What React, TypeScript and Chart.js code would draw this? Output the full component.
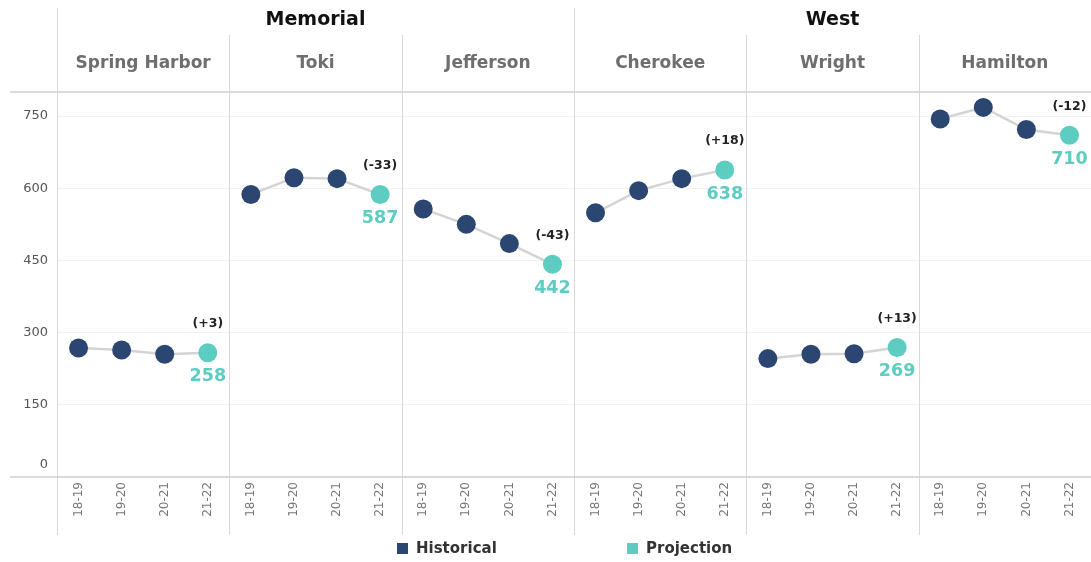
import React, { useEffect, useRef } from "react";
import { Chart, registerables } from "chart.js";

Chart.register(...registerables);

// ---- data ----
const groups = ["Memorial", "West"];
const schools = ["Spring Harbor", "Toki", "Jefferson", "Cherokee", "Wright", "Hamilton"];
const schoolGroup = [0, 0, 0, 1, 1, 1];
const years = ["18-19", "19-20", "20-21", "21-22"];
const springHarbor = [268, 264, 255, 258];
const toki = [587, 622, 620, 587];
const jefferson = [557, 525, 485, 442];
const cherokee = [549, 595, 620, 638];
const wright = [246, 255, 256, 269];
const hamilton = [744, 768, 722, 710];
const seriesValues = [springHarbor, toki, jefferson, cherokee, wright, hamilton];
const yTicks = [0, 150, 300, 450, 600, 750];
const legendLabels = ["Historical", "Projection"];

const NAVY = "#2c4672";
const TEAL = "#5dcdc1";
const FONT = "'DejaVu Sans', Verdana, sans-serif";

export default function App() {
  const ref = useRef<HTMLCanvasElement | null>(null);

  useEffect(() => {
    document.body.style.margin = "0";
    const canvas = ref.current;
    if (!canvas) return;
    const nPer = years.length;
    const labels: string[] = [];
    schools.forEach(() => years.forEach((y) => labels.push(y)));

    const datasets = seriesValues.map((vals, i) => {
      const data: (number | null)[] = labels.map(() => null);
      vals.forEach((v, j) => (data[i * nPer + j] = v));
      return {
        label: schools[i],
        data,
        borderColor: "#d4d4d4",
        borderWidth: 2.5,
        pointRadius: 9.5,
        pointHoverRadius: 9.5,
        pointBorderWidth: 0,
        pointBackgroundColor: labels.map((_, k) => (k % nPer === nPer - 1 ? TEAL : NAVY)),
        spanGaps: false,
        tension: 0,
      };
    });

    const decor = {
      id: "decor",
      beforeDraw(chart: any) {
        const { ctx } = chart;
        ctx.save();
        ctx.fillStyle = "#ffffff";
        ctx.fillRect(0, 0, chart.width, chart.height);
        ctx.restore();
      },
      beforeDatasetsDraw(chart: any) {
        const { ctx, chartArea } = chart;
        const xs = chart.scales.x;
        const ys = chart.scales.y;
        const bounds: number[] = [];
        for (let k = 0; k <= schools.length; k++) {
          if (k === 0) bounds.push(chartArea.left);
          else if (k === schools.length) bounds.push(chartArea.right);
          else bounds.push((xs.getPixelForValue(k * nPer - 1) + xs.getPixelForValue(k * nPer)) / 2);
        }
        ctx.save();
        // vertical separators
        ctx.strokeStyle = "#d9d9d9";
        ctx.lineWidth = 1;
        for (let k = 0; k < schools.length; k++) {
          const isGroupStart = k === 0 || schoolGroup[k] !== schoolGroup[k - 1];
          const x = Math.round(bounds[k]) + 0.5;
          ctx.beginPath();
          ctx.moveTo(x, isGroupStart ? 8 : 35);
          ctx.lineTo(x, 535);
          ctx.stroke();
        }
        // horizontal frame lines
        ctx.strokeStyle = "#cfcfcf";
        ctx.lineWidth = 1.5;
        [chartArea.top, ys.getPixelForValue(0)].forEach((y) => {
          ctx.beginPath();
          ctx.moveTo(10, y);
          ctx.lineTo(chartArea.right, y);
          ctx.stroke();
        });
        // group headers
        ctx.textAlign = "center";
        ctx.textBaseline = "middle";
        groups.forEach((g, gi) => {
          const idx = schoolGroup.map((s, i) => (s === gi ? i : -1)).filter((i) => i >= 0);
          const x0 = bounds[idx[0]];
          const x1 = bounds[idx[idx.length - 1] + 1];
          ctx.fillStyle = "#111111";
          ctx.font = `bold 19px ${FONT}`;
          ctx.fillText(g, (x0 + x1) / 2, 20);
        });
        // school headers
        schools.forEach((s, i) => {
          ctx.fillStyle = "#6e6e6e";
          ctx.font = `bold 17px ${FONT}`;
          ctx.fillText(s, (bounds[i] + bounds[i + 1]) / 2, 64);
        });
        // zero label (sits above baseline)
        ctx.fillStyle = "#555555";
        ctx.font = `13px ${FONT}`;
        ctx.textAlign = "right";
        ctx.fillText(String(yTicks[0]), chartArea.left - 9, ys.getPixelForValue(0) - 12);
        // legend
        const legendX = [397, 627];
        const legendColors = [NAVY, TEAL];
        legendLabels.forEach((l, i) => {
          ctx.fillStyle = legendColors[i];
          ctx.fillRect(legendX[i], 543, 11, 11);
          ctx.fillStyle = "#333333";
          ctx.font = `bold 15px ${FONT}`;
          ctx.textAlign = "left";
          ctx.fillText(l, legendX[i] + 19, 549);
        });
        ctx.restore();
      },
      afterDatasetsDraw(chart: any) {
        const { ctx } = chart;
        ctx.save();
        ctx.textAlign = "center";
        ctx.textBaseline = "middle";
        seriesValues.forEach((vals, i) => {
          const meta = chart.getDatasetMeta(i);
          const el = meta.data[i * nPer + nPer - 1];
          const last = vals[nPer - 1];
          const diff = last - vals[nPer - 2];
          const txt = `(${diff >= 0 ? "+" : "-"}${Math.abs(diff)})`;
          ctx.fillStyle = "#222222";
          ctx.font = `bold 12.5px ${FONT}`;
          ctx.fillText(txt, el.x, el.y - 29);
          ctx.fillStyle = TEAL;
          ctx.font = `bold 17.5px ${FONT}`;
          ctx.fillText(String(last), el.x, el.y + 24);
        });
        ctx.restore();
      },
    };

    const chart = new Chart(canvas, {
      type: "line",
      data: { labels, datasets },
      options: {
        responsive: false,
        animation: false,
        layout: { autoPadding: false, padding: { top: 92, right: 0, bottom: 0, left: 0 } },
        plugins: { legend: { display: false }, tooltip: { enabled: false } },
        scales: {
          x: {
            type: "category",
            offset: true,
            grid: { display: false, drawTicks: false },
            border: { display: false },
            ticks: {
              autoSkip: false,
              minRotation: 90,
              maxRotation: 90,
              padding: 5,
              color: "#777777",
              font: { family: FONT, size: 12 },
            },
            afterFit: (s: any) => {
              s.height = 85;
              s.paddingLeft = 0;
              s.paddingRight = 0;
            },
          },
          y: {
            min: 0,
            max: 800,
            grid: { color: "#f1f1f1", drawTicks: false },
            border: { display: false },
            afterBuildTicks: (s: any) => {
              s.ticks = yTicks.map((v) => ({ value: v }));
            },
            ticks: {
              padding: 9,
              color: "#555555",
              font: { family: FONT, size: 13 },
              callback: (v: any) => (v === 0 ? "" : String(v)),
            },
            afterFit: (s: any) => {
              s.width = 57;
              s.paddingTop = 0;
              s.paddingBottom = 0;
            },
          },
        },
      },
      plugins: [decor],
    });
    return () => chart.destroy();
  }, []);

  return (
    <div style={{ width: 1091, height: 562 }}>
      <canvas ref={ref} width={1091} height={562} style={{ display: "block" }} />
    </div>
  );
}
